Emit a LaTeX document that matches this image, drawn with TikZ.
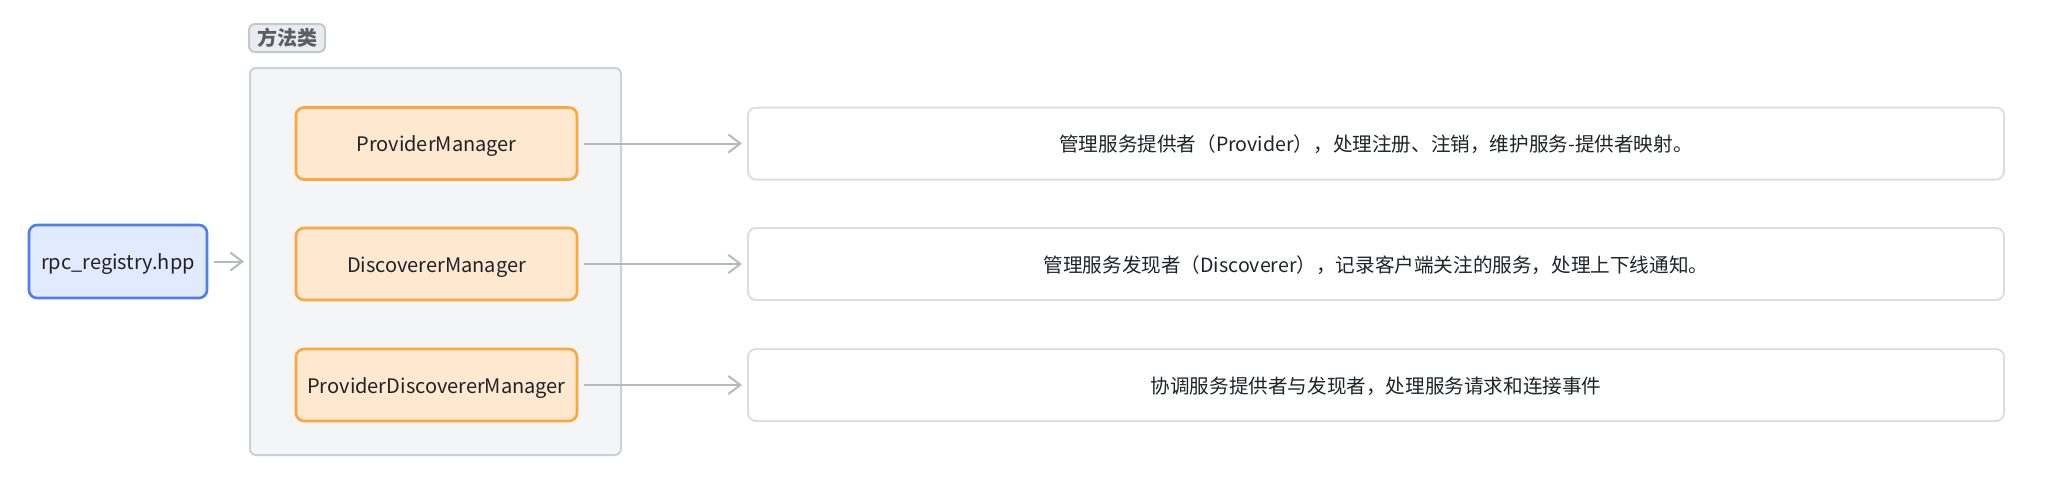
\documentclass[tikz,border=0pt]{standalone}
\usepackage{fontspec}
\setmainfont{Noto Sans CJK SC}
\usetikzlibrary{arrows.meta}
\definecolor{txt}{HTML}{1F2329}
\definecolor{bluebd}{HTML}{4D7EF5}
\definecolor{bluefill}{HTML}{E1EAFE}
\definecolor{orgbd}{HTML}{FFA53D}
\definecolor{orgfill}{HTML}{FEE8D0}
\definecolor{contfill}{HTML}{F4F5F7}
\definecolor{contbd}{HTML}{CDD0D5}
\definecolor{tagfill}{HTML}{EBECEF}
\definecolor{tagbd}{HTML}{C5C8CD}
\definecolor{tagtxt}{HTML}{5A5E66}
\definecolor{descbd}{HTML}{DCDEE2}
\definecolor{arr}{HTML}{B5B8BD}
\tikzset{
  base/.style={inner sep=0pt, text=txt, text height=9pt, text depth=0.6pt},
  filebox/.style={base, draw=bluebd, fill=bluefill, line width=1.3pt, rounded corners=4pt,
    minimum width=89pt, minimum height=36.5pt, font=\fontsize{10}{12}\selectfont},
  mgrbox/.style={base, draw=orgbd, fill=orgfill, line width=1.3pt, rounded corners=4pt,
    minimum width=140.5pt, minimum height=36pt, font=\fontsize{10}{12}\selectfont},
  descbox/.style={base, draw=descbd, fill=white, line width=1pt, rounded corners=4pt,
    minimum width=628pt, minimum height=36pt, font=\fontsize{9.8}{12}\selectfont},
  contbox/.style={draw=contbd, fill=contfill, line width=1pt, rounded corners=3pt},
  tagbox/.style={draw=tagbd, fill=tagfill, line width=1pt, rounded corners=3pt,
    minimum width=38pt, minimum height=14pt, inner sep=0pt, text=tagtxt,
    text height=8.6pt, text depth=0.6pt, font=\bfseries\fontsize{10}{12}\selectfont},
  conn/.style={draw=arr, line width=1pt, -{Straight Barb[length=6pt,width=9pt,line width=1pt]},
    shorten <=3pt, shorten >=2.5pt},
}
\begin{document}
\begin{tikzpicture}[x=0.5pt,y=-0.5pt]
\useasboundingbox (0,0) rectangle (2055,487);
% container
\node[contbox, minimum width=185.5pt, minimum height=193.5pt, inner sep=0pt] (cont) at (435.5,261.5) {};
\node[tagbox] (tag) at (287,38) {方法类};
% file
\node[filebox] (rpc) at (118,261.5) {rpc\_registry.hpp};
% managers
\node[mgrbox] (pm) at (436.5,143.5) {ProviderManager};
\node[mgrbox] (dm) at (436.5,264) {DiscovererManager};
\node[mgrbox] (pdm) at (436.5,385) {ProviderDiscovererManager};
% descriptions
\node[descbox] (d1) at (1376,143.5) {管理服务提供者（Provider），处理注册、注销，维护服务-提供者映射。};
\node[descbox] (d2) at (1376,264) {管理服务发现者（Discoverer），记录客户端关注的服务，处理上下线通知。};
\node[descbox] (d3) at (1376,385) {协调服务提供者与发现者，处理服务请求和连接事件};
% connectors
\draw[conn] (rpc.east) -- (rpc.east -| cont.west);
\draw[conn] (pm) -- (d1);
\draw[conn] (dm) -- (d2);
\draw[conn] (pdm) -- (d3);
\end{tikzpicture}
\end{document}
